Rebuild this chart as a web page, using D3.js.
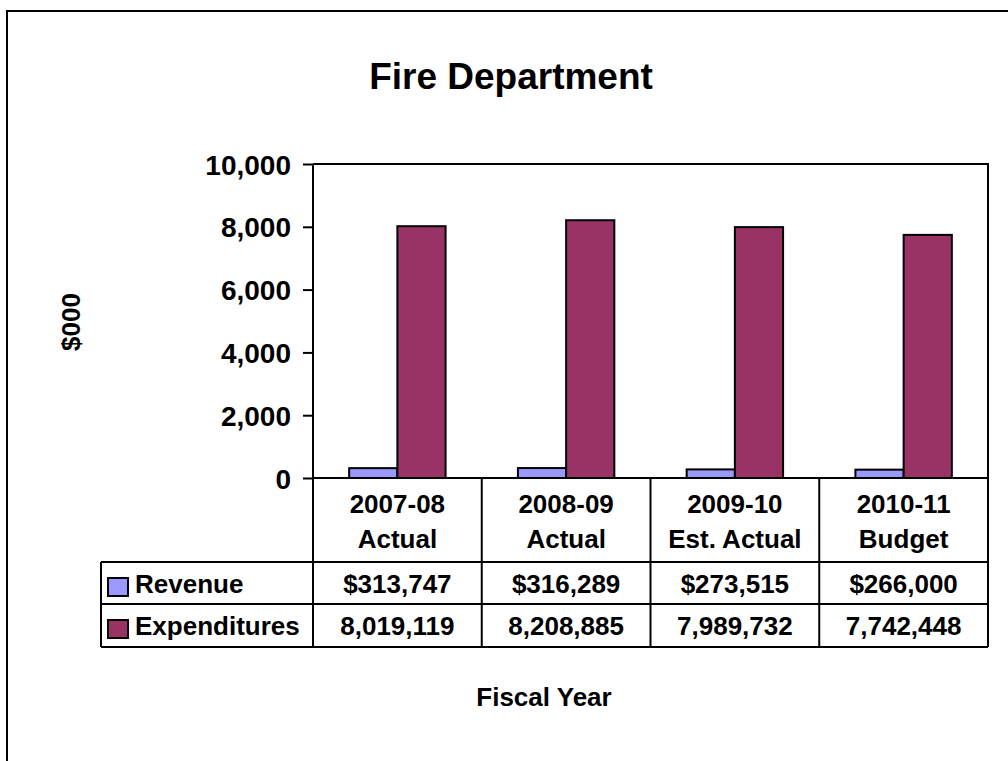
<!DOCTYPE html>
<html>
<head>
<meta charset="utf-8">
<script src="https://cdn.jsdelivr.net/npm/d3@7/dist/d3.min.js"></script>
<style>
  html, body { margin: 0; padding: 0; background: #fff; }
  svg { display: block; }
  text { font-family: "Liberation Sans", Arial, Helvetica, sans-serif; font-weight: bold; fill: #000; }
</style>
</head>
<body>
<svg id="chart" width="1008" height="761"></svg>
<script>
// Fiscal years shown as columns (two header lines each)
const categories = ["2007-08|Actual", "2008-09|Actual", "2009-10|Est. Actual", "2010-11|Budget"];
// Dollar amounts per fiscal year
const revenue = [313747, 316289, 273515, 266000];
const expenditures = [8019119, 8208885, 7989732, 7742448];
const seriesNames = ["Revenue", "Expenditures"];
const seriesColors = ["#9999FF", "#993366"];
// Y axis ticks in $000
const yTicks = [0, 2000, 4000, 6000, 8000, 10000];

const svg = d3.select("#chart");

// Outer chart frame
svg.append("rect")
  .attr("x", 7).attr("y", 11).attr("width", 1010).attr("height", 760)
  .attr("fill", "none").attr("stroke", "#000").attr("stroke-width", 2);

const plot = { left: 313, right: 988, top: 164, bottom: 478 };
const table = { left: 101, headerBottom: 562, row1Bottom: 604, bottom: 647 };

const x = d3.scaleBand().domain(categories).range([plot.left, plot.right]);
const y = d3.scaleLinear().domain([0, 10000]).range([plot.bottom, plot.top]);

// Title
svg.append("text")
  .attr("x", 511).attr("y", 89)
  .attr("text-anchor", "middle")
  .style("font-size", "37px")
  .text("Fire Department");

// Y axis title
svg.append("text")
  .attr("transform", "translate(80,322) rotate(-90)")
  .attr("text-anchor", "middle")
  .style("font-size", "26px")
  .text("$000");

// X axis title
svg.append("text")
  .attr("x", 544).attr("y", 706)
  .attr("text-anchor", "middle")
  .style("font-size", "26px")
  .text("Fiscal Year");

// Y axis with outward ticks
const yAxis = d3.axisLeft(y)
  .tickValues(yTicks)
  .tickSize(10)
  .tickPadding(12)
  .tickFormat(d3.format(","));
const yg = svg.append("g")
  .attr("transform", `translate(${plot.left},0)`)
  .call(yAxis);
yg.select(".domain").remove();
yg.selectAll(".tick line").attr("stroke", "#000").attr("stroke-width", 2);
yg.selectAll(".tick text")
  .style("font-size", "28px")
  .attr("dy", "0.36em")
  .style("font-family", '"Liberation Sans", Arial, sans-serif')
  .style("font-weight", "bold")
  .attr("fill", "#000");

// Bars: clustered, each bar ~ 48px with 150% gap
const inner = d3.scaleBand().domain(seriesNames)
  .range([0, x.bandwidth()])
  .paddingOuter(0.75).paddingInner(0);

const seriesData = [revenue, expenditures];
seriesNames.forEach((name, si) => {
  svg.append("g").selectAll("rect")
    .data(seriesData[si])
    .join("rect")
    .attr("x", (d, i) => x(categories[i]) + inner(name))
    .attr("y", d => y(d / 1000))
    .attr("width", inner.bandwidth())
    .attr("height", d => plot.bottom - y(d / 1000))
    .attr("fill", seriesColors[si])
    .attr("stroke", "#000")
    .attr("stroke-width", 2);
});

// Plot frame (axis line, top and right border, zero line)
const lines = svg.append("g").attr("stroke", "#000").attr("stroke-width", 2).attr("fill", "none");
lines.append("path").attr("d",
  `M${plot.left},${plot.top}H${plot.right}V${table.bottom}` +
  `M${plot.left},${plot.top}V${table.bottom}` +
  `M${plot.left},${plot.bottom}H${plot.right}`);

// Data table grid
lines.append("path").attr("d",
  `M${table.left},${table.headerBottom}H${plot.right}` +
  `M${table.left},${table.row1Bottom}H${plot.right}` +
  `M${table.left},${table.bottom}H${plot.right}` +
  `M${table.left},${table.headerBottom}V${table.bottom}`);
categories.forEach((c, i) => {
  if (i > 0) {
    lines.append("line")
      .attr("x1", x(c)).attr("x2", x(c))
      .attr("y1", plot.bottom).attr("y2", table.bottom);
  }
});

// Header labels
categories.forEach(c => {
  const parts = c.split("|");
  const cx = x(c) + x.bandwidth() / 2;
  svg.append("text").attr("x", cx).attr("y", 513).attr("text-anchor", "middle")
    .style("font-size", "26px").text(parts[0]);
  svg.append("text").attr("x", cx).attr("y", 548).attr("text-anchor", "middle")
    .style("font-size", "26px").text(parts[1]);
});

// Table rows
const fmtRevenue = v => "$" + d3.format(",")(v);
const fmtExp = d3.format(",");
const rowBaselines = [593, 635];
const rowTops = [table.headerBottom, table.row1Bottom];
seriesNames.forEach((name, si) => {
  // Legend key
  svg.append("rect")
    .attr("x", 108).attr("y", rowTops[si] + 16)
    .attr("width", 20).attr("height", 18)
    .attr("fill", seriesColors[si])
    .attr("stroke", "#000").attr("stroke-width", 2);
  svg.append("text").attr("x", 135).attr("y", rowBaselines[si])
    .style("font-size", "26px").text(name);
  seriesData[si].forEach((v, i) => {
    svg.append("text")
      .attr("x", x(categories[i]) + x.bandwidth() / 2)
      .attr("y", rowBaselines[si])
      .attr("text-anchor", "middle")
      .style("font-size", "26px")
      .text(si === 0 ? fmtRevenue(v) : fmtExp(v));
  });
});
</script>
</body>
</html>
